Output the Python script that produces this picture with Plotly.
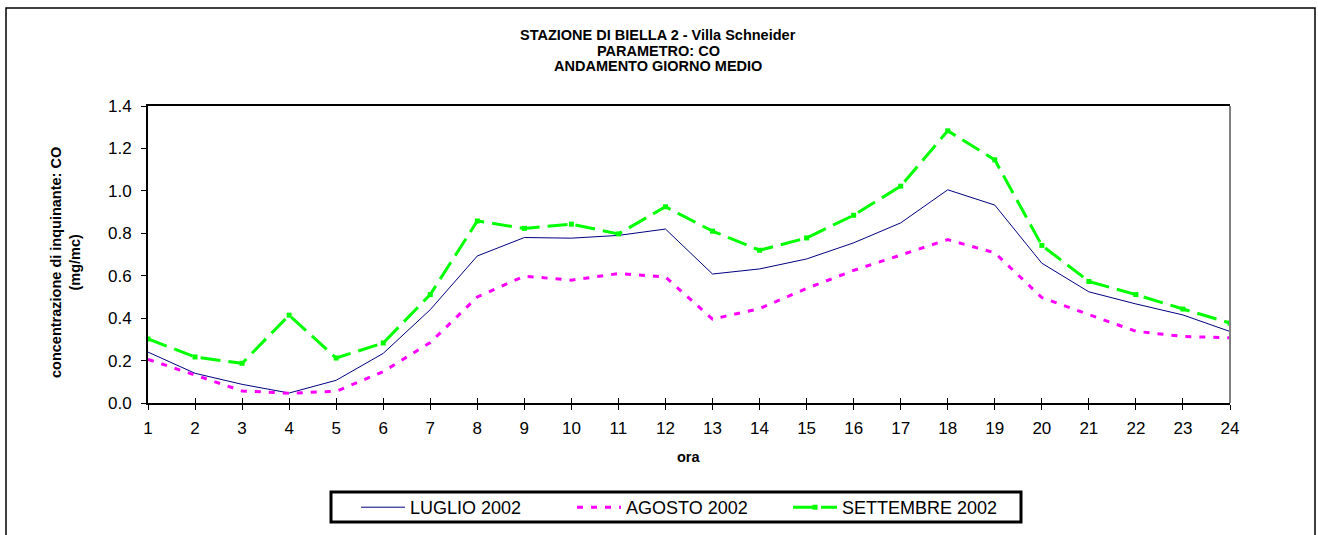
import plotly.graph_objects as go

hours = list(range(1, 25))
luglio = [0.24, 0.14, 0.088, 0.047, 0.107, 0.234, 0.44, 0.693, 0.78, 0.777, 0.79, 0.82,
          0.608, 0.632, 0.679, 0.755, 0.849, 1.005, 0.933, 0.659, 0.524, 0.467, 0.415, 0.337]
agosto = [0.206, 0.131, 0.057, 0.046, 0.055, 0.148, 0.285, 0.5, 0.598, 0.579, 0.61, 0.594,
          0.395, 0.445, 0.54, 0.625, 0.698, 0.77, 0.708, 0.497, 0.417, 0.338, 0.314, 0.307]
settembre = [0.302, 0.217, 0.187, 0.414, 0.212, 0.283, 0.511, 0.858, 0.823, 0.843, 0.797, 0.925,
             0.81, 0.72, 0.778, 0.885, 1.022, 1.283, 1.146, 0.743, 0.573, 0.511, 0.443, 0.377]
names = ["LUGLIO 2002", "AGOSTO 2002", "SETTEMBRE 2002"]
title_lines = ["STAZIONE DI BIELLA 2 - Villa Schneider", "PARAMETRO: CO", "ANDAMENTO GIORNO MEDIO"]
y_title = "concentrazione di inquinante: CO<br>(mg/mc)"
x_title = "ora"

FONT = "Liberation Sans, Arial, sans-serif"
W, H = 1318, 535
L, R, T, B = 148, 1230, 106, 403  # plot area in pixels
PW, PH = R - L, B - T


def px(xp):
    return (xp - L) / PW


def py(yp):
    return (B - yp) / PH


fig = go.Figure()
fig.add_trace(go.Scatter(x=hours, y=luglio, name=names[0], mode="lines",
                         line=dict(color="#000080", width=1)))
fig.add_trace(go.Scatter(x=hours, y=agosto, name=names[1], mode="lines",
                         line=dict(color="#FF00FF", width=3, dash="6px,8px")))
fig.add_trace(go.Scatter(x=hours, y=settembre, name=names[2], mode="lines+markers",
                         line=dict(color="#00FF00", width=3, dash="20px,8px"),
                         marker=dict(symbol="square", size=5, color="#00FF00")))
# invisible helper trace so the inner-tick overlay axis is drawn
fig.add_trace(go.Scatter(x=hours, y=luglio, xaxis="x2", mode="lines", opacity=0,
                         line=dict(width=0), showlegend=False, hoverinfo="skip"))

fig.update_layout(
    template="none",
    width=W, height=H,
    margin=dict(l=L, r=W - R, t=T, b=H - B, autoexpand=False),
    paper_bgcolor="white", plot_bgcolor="white",
    font=dict(family=FONT, color="black"),
    xaxis=dict(range=[1, 24], tickmode="linear", tick0=1, dtick=1, automargin=False,
               showgrid=False, zeroline=False, showline=True, linecolor="black", linewidth=2,
               mirror=True, ticks="outside", ticklen=5, tickwidth=1, tickcolor="black",
               tickfont=dict(size=17, family=FONT), ticklabelstandoff=4),
    xaxis2=dict(range=[1, 24], overlaying="x", matches="x", tickmode="linear", tick0=1, dtick=1,
                automargin=False, showgrid=False, zeroline=False, showline=False,
                ticks="inside", ticklen=5, tickwidth=1, tickcolor="black", showticklabels=False),
    yaxis=dict(range=[0, 1.4], tickmode="linear", tick0=0, dtick=0.2, tickformat=".1f",
               automargin=False,
               showgrid=False, zeroline=False, showline=True, linecolor="black", linewidth=2,
               ticks="outside", ticklen=5, tickwidth=1, tickcolor="black",
               tickfont=dict(size=17, family=FONT), ticklabelstandoff=6),
    legend=dict(orientation="h", x=px(680), xanchor="center",
                y=py(489), yanchor="top",
                borderwidth=0, bgcolor="rgba(0,0,0,0)",
                font=dict(size=18, family=FONT), itemwidth=44, entrywidth=157,
                traceorder="normal"),
    showlegend=True,
)

# chart title (three tight lines)
for txt, yc in zip(title_lines, [35, 50.7, 65.7]):
    fig.add_annotation(text="<b>" + txt + "</b>", xref="paper", yref="paper",
                       x=px(658), y=py(yc), xanchor="center", yanchor="middle",
                       showarrow=False, font=dict(size=14.5, family=FONT, color="black"))

# axis titles
fig.add_annotation(text="<b>" + y_title + "</b>", xref="paper", yref="paper",
                   x=px(65), y=py(263), xanchor="center", yanchor="middle", textangle=-90,
                   showarrow=False, font=dict(size=14.5, family=FONT, color="black"))
fig.add_annotation(text="<b>" + x_title + "</b>", xref="paper", yref="paper",
                   x=px(689), y=py(457), xanchor="center", yanchor="middle",
                   showarrow=False, font=dict(size=14.5, family=FONT, color="black"))

# right border of plot area (grey), outer chart frame, legend frame
fig.add_shape(type="line", xref="paper", yref="paper", x0=1, x1=1, y0=0, y1=1,
              line=dict(color="#808080", width=2))
fig.add_shape(type="rect", xref="paper", yref="paper",
              x0=px(6), x1=px(1315), y0=py(545), y1=py(8),
              line=dict(color="black", width=1.5), layer="below")
fig.add_shape(type="rect", xref="paper", yref="paper",
              x0=px(331), x1=px(1021), y0=py(522), y1=py(492),
              line=dict(color="black", width=3), layer="below")

fig.write_html("out.html", config={"displayModeBar": False},
               post_script="document.body.style.margin='0';document.body.style.overflow='hidden';")
